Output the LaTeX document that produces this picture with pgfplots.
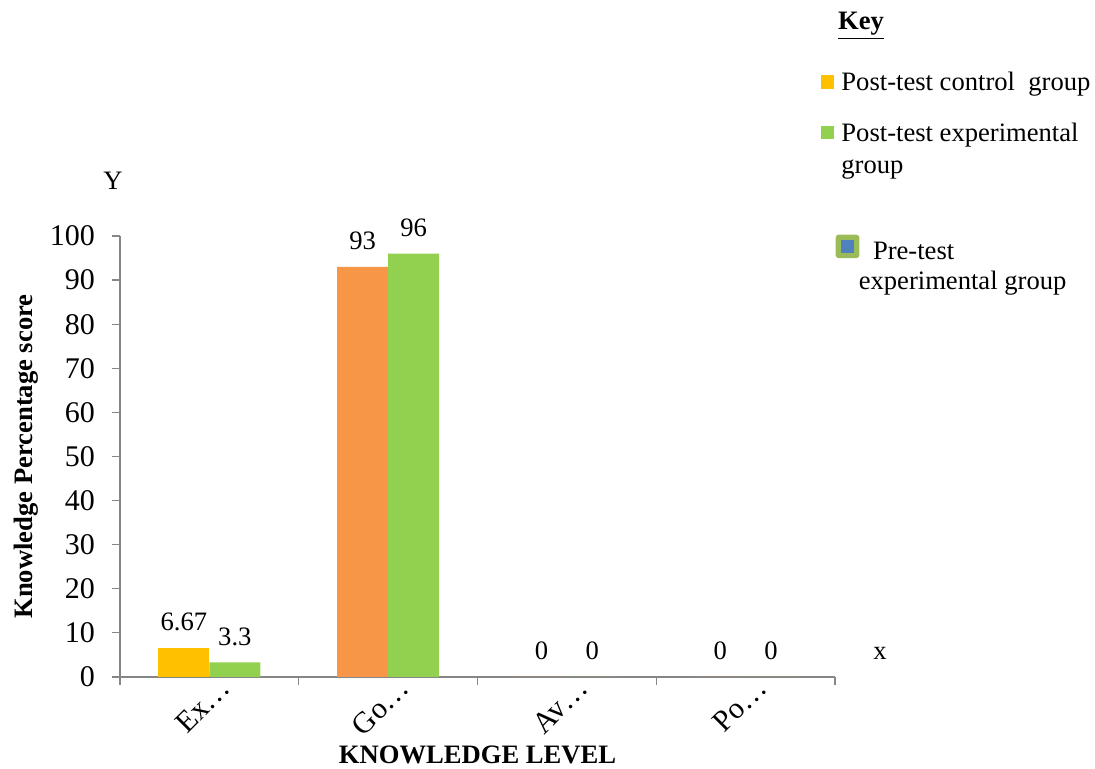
\documentclass[border=0pt]{standalone}
\usepackage{fontspec}
\setmainfont{Liberation Serif}
\usepackage{pgfplots}
\pgfplotsset{compat=1.18}
\definecolor{cYel}{HTML}{FFC000}
\definecolor{cOra}{HTML}{F79646}
\definecolor{cGrn}{HTML}{92D050}
\definecolor{cBlu}{HTML}{4F81BD}
\definecolor{cOl}{HTML}{9BBB59}
\definecolor{cAx}{HTML}{868686}
\newcommand{\fs}{\fontsize{13.3}{16}\selectfont}
\newcommand{\ft}{\fontsize{15}{18}\selectfont}
\begin{document}
\begin{tikzpicture}
\useasboundingbox (0,0) rectangle (547.5pt,384.5pt);
\begin{axis}[at={(60pt,46pt)}, anchor=south west, scale only axis,
 width=357.5pt, height=220.5pt,
 xmin=-0.5, xmax=3.5, ymin=0, ymax=100,
 axis lines=left, axis line style={-, cAx, line width=0.6pt},
 ytick={0,10,...,100},
 xtick={-0.5,0.5,1.5,2.5,3.5}, x tick label as interval,
 xticklabels={Ex…,Go…,Av…,Po…},
 minor tick num=0,
 tick align=outside, major tick length=4pt, tick style={cAx, line width=0.6pt},
 /pgf/number format/assume math mode=true,
 ticklabel style={font=\ft, text=black},
 yticklabel style={xshift=-5pt},
 xticklabel style={anchor=east, xshift=10.5pt, yshift=3.5pt, rotate=45},
 xlabel={\textbf{KNOWLEDGE LEVEL}}, ylabel={\textbf{Knowledge Percentage score}},
 label style={font=\fs},
 xlabel style={at={(axis description cs:0.5,0)}, anchor=base, yshift=-43.5pt},
 ylabel style={at={(axis description cs:-0.1217,0.5)}, anchor=base},
 clip=false,
 every node near coord/.append style={font=\fs, yshift=5pt, text=black},
]
\addplot[ybar, bar width=0.285, bar shift=0pt, fill=cYel, draw=none, nodes near coords]
  coordinates {(-0.1425,6.67)};
\addplot[ybar, bar width=0.285, bar shift=0pt, fill=cOra, draw=none, nodes near coords]
  coordinates {(0.8575,93) (1.8575,0) (2.8575,0)};
\addplot[ybar, bar width=0.285, bar shift=0pt, fill=cGrn, draw=none, nodes near coords]
  coordinates {(0.1425,3.3) (1.1425,96) (2.1425,0) (3.1425,0)};
\end{axis}
% key
\node[font=\fs, anchor=base] at (430.5pt,369.75pt) {\underline{\textbf{Key}}};
\fill[cYel] (410.4pt,340.2pt) rectangle ++(6.75pt,6.75pt);
\node[font=\fs, anchor=base west, inner sep=0pt] at (420.5pt,339pt) {Post-test control\ \ group};
\fill[cGrn] (410.4pt,314.8pt) rectangle ++(6.75pt,6.75pt);
\node[font=\fs, anchor=base west, inner sep=0pt] at (420.5pt,313.7pt) {Post-test experimental};
\node[font=\fs, anchor=base west, inner sep=0pt] at (420.5pt,297.8pt) {group};
\fill[cOl, rounded corners=1.5pt] (417.85pt,255.4pt) rectangle (429.65pt,267.2pt);
\fill[cBlu] (420.4pt,257.9pt) rectangle (427.1pt,264.7pt);
\node[font=\fs, anchor=base west, inner sep=0pt] at (436.3pt,254.8pt) {Pre-test};
\node[font=\fs, anchor=base west, inner sep=0pt] at (429.2pt,239.5pt) {experimental group};
% axis letters
\node[font=\fs, anchor=base] at (56.5pt,289.5pt) {Y};
\node[font=\fs, anchor=base] at (440pt,54.5pt) {x};
\end{tikzpicture}
\end{document}
